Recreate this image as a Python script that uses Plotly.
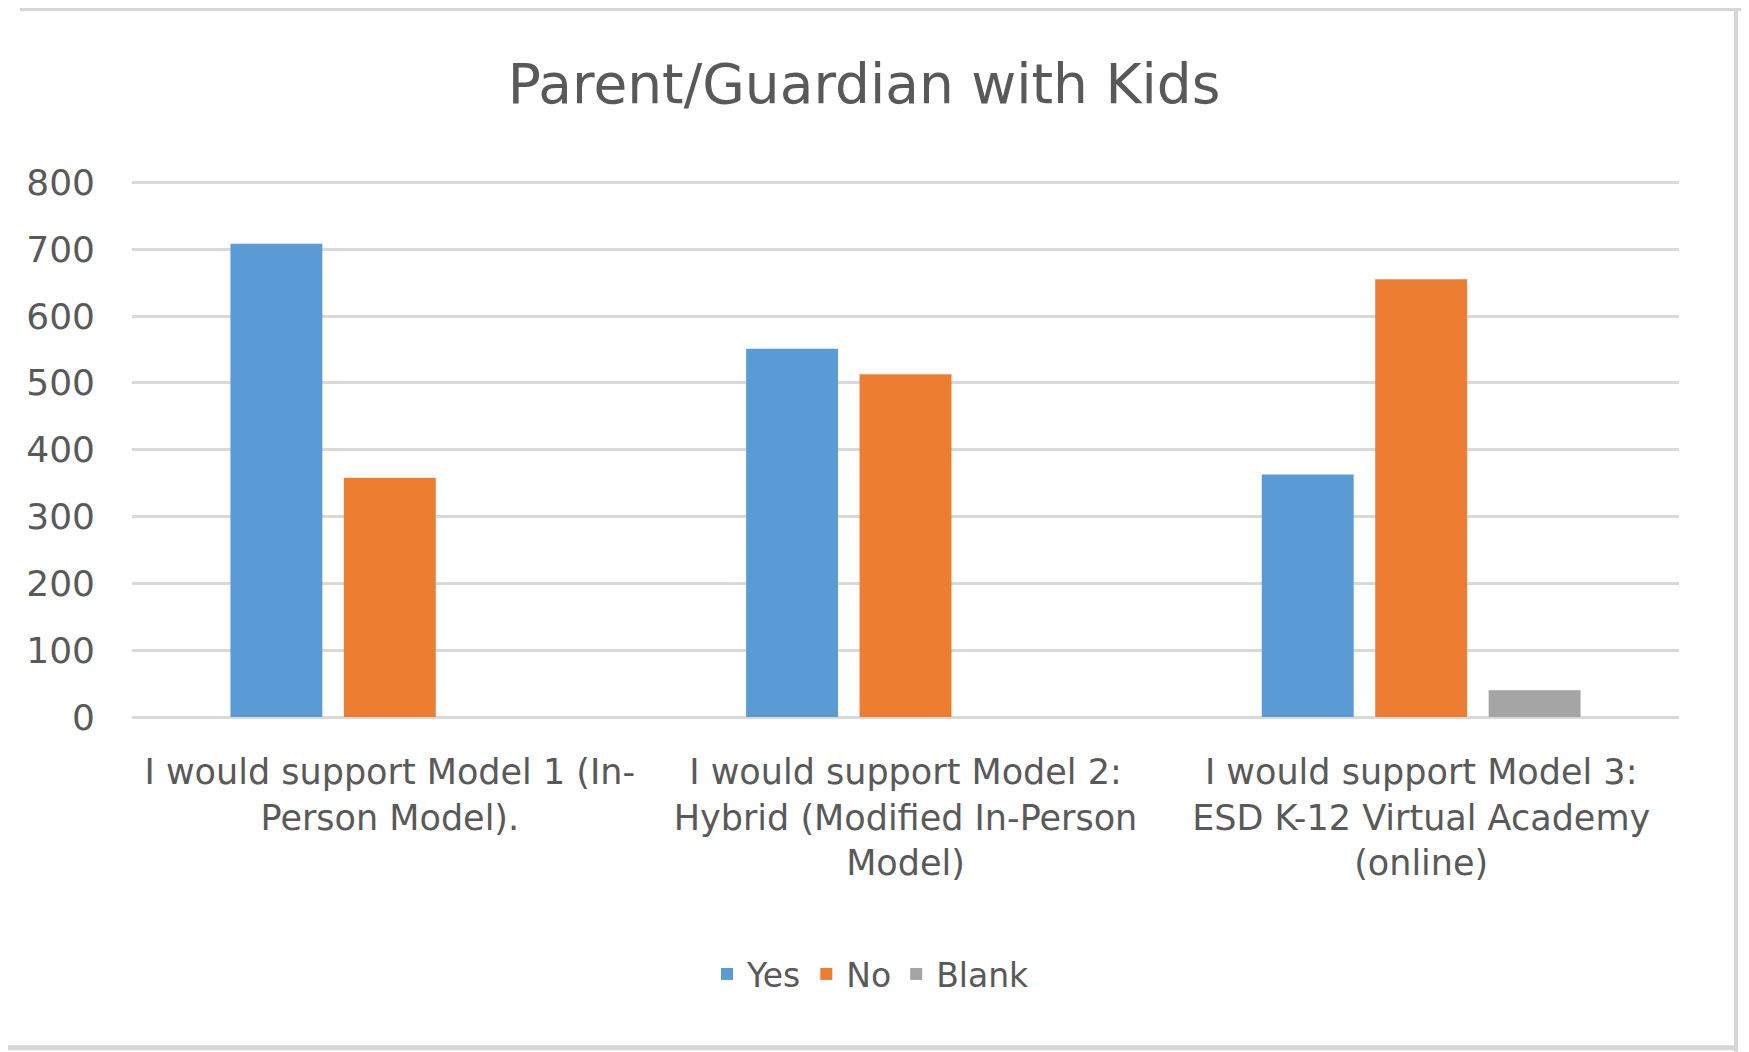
import plotly.graph_objects as go

categories = [
    "I would support Model 1 (In-<br>Person Model).",
    "I would support Model 2:<br>Hybrid (Modified In-Person<br>Model)",
    "I would support Model 3:<br>ESD K-12 Virtual Academy<br>(online)",
]
yes_vals = [708, 551, 363]
no_vals = [358, 513, 655]
blank_vals = [0, 0, 40]
series_names = ["Yes", "No", "Blank"]
series_colors = ["#5B9BD5", "#ED7D31", "#A5A5A5"]
y_ticks = [0, 100, 200, 300, 400, 500, 600, 700, 800]

TXT = "#595959"
GRID = "#D9D9D9"
FONT = "DejaVu Sans"

# page has an 8px body margin; figure coordinates = page coordinates - 8
OFF = 8
FW, FH = 1749 - OFF, 1052 - OFF
PL, PR, PT, PB = 132 - OFF, 1679 - OFF, 182 - OFF, 717 - OFF
YMAX = 805  # a little headroom so the 800 gridline is drawn
top_extra = (YMAX - 800) * (PB - PT) / 800.0
PT2 = PT - top_extra

fig = go.Figure()
for name, vals, col in zip(series_names, [yes_vals, no_vals, blank_vals], series_colors):
    fig.add_trace(go.Bar(x=categories, y=vals, name=name, marker_color=col,
                         marker_line_width=0))

fig.update_layout(
    width=FW, height=FH, autosize=False,
    paper_bgcolor="white", plot_bgcolor="white",
    margin=dict(l=PL, r=FW - PR, t=PT2, b=FH - PB),
    barmode="group", bargap=0.34, bargroupgap=0.19,
    title=dict(text="Parent/Guardian with Kids", x=(864 - OFF) / FW, xref="container",
               xanchor="center", y=1 - (84 - OFF) / FH, yref="container", yanchor="middle",
               font=dict(family=FONT, size=55, color=TXT)),
    legend=dict(orientation="h", xref="container", x=(871 - OFF) / FW, xanchor="center",
                yref="container", y=1 - (974 - OFF) / FH, yanchor="middle",
                font=dict(family=FONT, size=33, color=TXT), traceorder="normal"),
    font=dict(family=FONT, color=TXT),
)
fig.update_yaxes(range=[0, YMAX], tickvals=y_ticks, showgrid=True, gridcolor=GRID,
                 gridwidth=3, zeroline=True, zerolinecolor=GRID, zerolinewidth=3,
                 showline=False, ticks="", ticklabelstandoff=36,
                 tickfont=dict(family=FONT, size=36, color=TXT), fixedrange=True)
fig.update_xaxes(showgrid=False, showline=False, ticks="", ticklabelstandoff=31,
                 tickfont=dict(family=FONT, size=35, color=TXT), tickangle=0)

# chart-area border (spreadsheet frame), given in figure pixels
def px(p):
    return (p - PL) / (PR - PL)
def py(p):
    return (PB - p) / (PB - PT2)
border = "#D6D6D6"
fig.add_shape(type="line", xref="paper", yref="paper", x0=px(12), x1=px(FW),
              y0=py(1), y1=py(1), line=dict(color=border, width=3))
fig.add_shape(type="line", xref="paper", yref="paper", x0=px(1728), x1=px(1728),
              y0=py(0), y1=py(FH), line=dict(color=border, width=4))
fig.add_shape(type="line", xref="paper", yref="paper", x0=px(0), x1=px(1730),
              y0=py(1040), y1=py(1040), line=dict(color=border, width=5))

fig.write_html("out.html")
